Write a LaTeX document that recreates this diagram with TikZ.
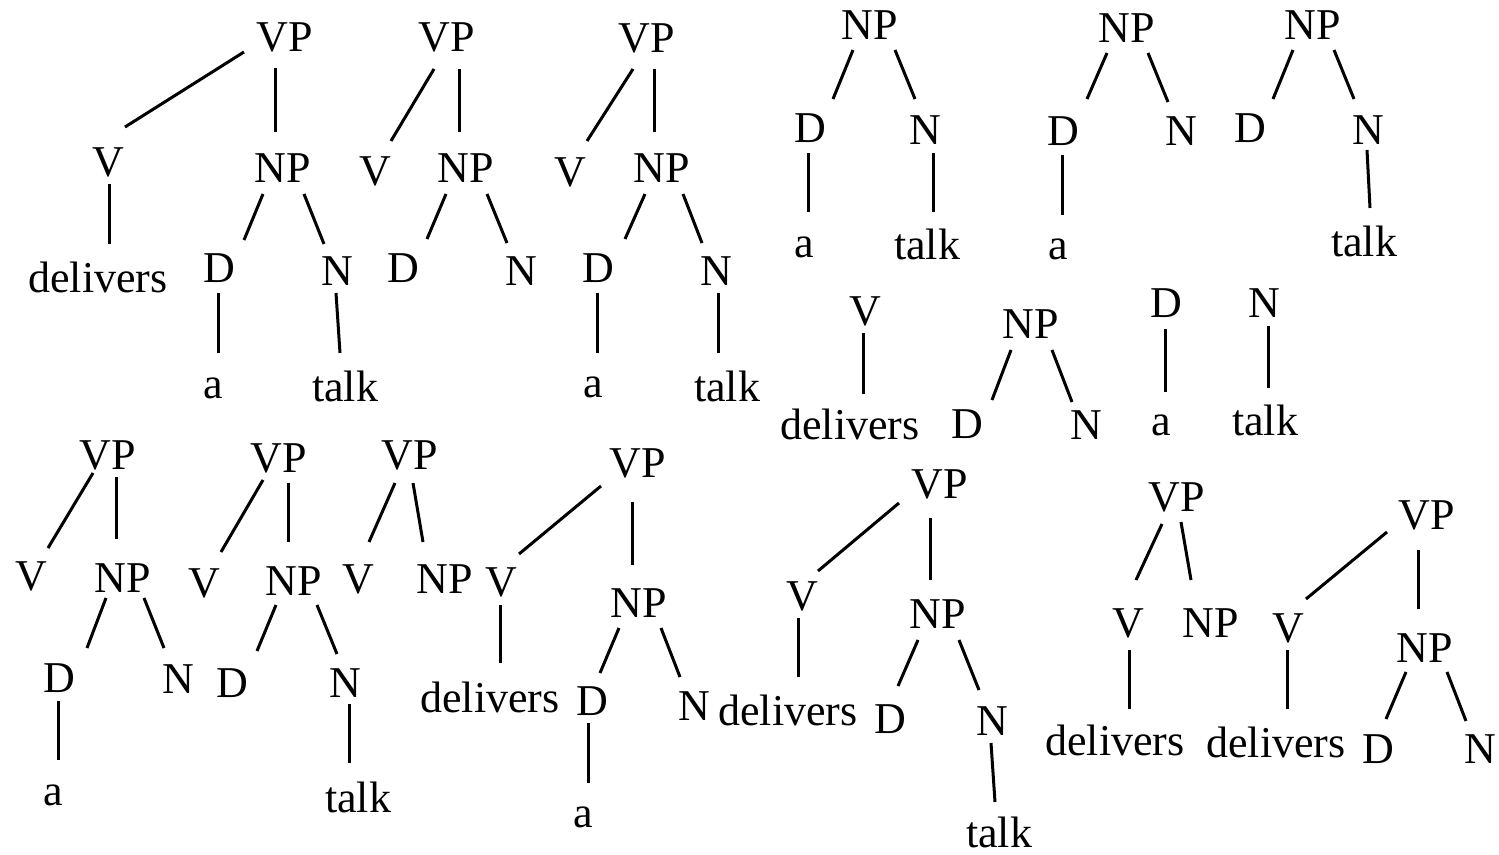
\documentclass[tikz,border=0pt]{standalone}
\usepackage{fontspec}
\setmainfont{Liberation Serif}
\tikzset{
  lbl/.style={inner sep=0pt, anchor=base, font=\fontsize{22pt}{26pt}\selectfont},
  branch/.style={line width=1.5pt, line cap=butt}
}
\newcommand\mkedge[4]{\draw[branch] ([shift={(#3)}]#1.base) -- ([shift={(#4)}]#2.base);}
\begin{document}
\begin{tikzpicture}[x=0.5pt,y=-0.5pt]
\useasboundingbox (0,0) rectangle (1499,855);
% ---------- Tree 1 ----------
\node[lbl] (t1vp) at (285,52) {VP};
\node[lbl] (t1v) at (108,177) {V};
\node[lbl] (t1dl) at (98,293) {delivers};
\node[lbl] (t1np) at (283,183) {NP};
\node[lbl] (t1d) at (219,283) {D};
\node[lbl] (t1n) at (337,286) {N};
\node[lbl] (t1a) at (213,399) {a};
\node[lbl] (t1t) at (345,401) {talk};
\mkedge{t1vp}{t1v}{-41,0}{17,-50}
\mkedge{t1vp}{t1np}{-10,16}{-8,-51}
\mkedge{t1v}{t1dl}{1,7}{11,-49}
\mkedge{t1np}{t1d}{-20,11}{25,-43}
\mkedge{t1np}{t1n}{21,11}{-13,-42}
\mkedge{t1d}{t1a}{-1,10}{5,-46}
\mkedge{t1n}{t1t}{-1,7}{-5,-48}
% ---------- Tree 2 ----------
\node[lbl] (t2vp) at (447,52) {VP};
\node[lbl] (t2v) at (375,186) {V};
\node[lbl] (t2np) at (466,183) {NP};
\node[lbl] (t2d) at (403,283) {D};
\node[lbl] (t2n) at (521,286) {N};
\mkedge{t2vp}{t2v}{-13,17}{16,-45}
\mkedge{t2vp}{t2np}{12,17}{-7,-51}
\mkedge{t2np}{t2d}{-20,11}{24,-44}
\mkedge{t2np}{t2n}{21,11}{-14,-43}
% ---------- Tree 3 ----------
\node[lbl] (t3vp) at (647,53) {VP};
\node[lbl] (t3v) at (570,187) {V};
\node[lbl] (t3np) at (662,183) {NP};
\node[lbl] (t3d) at (598,283) {D};
\node[lbl] (t3n) at (716,286) {N};
\node[lbl] (t3a) at (593,398) {a};
\node[lbl] (t3t) at (727,401) {talk};
\mkedge{t3vp}{t3v}{-14,16}{17,-46}
\mkedge{t3vp}{t3np}{7,16}{-8,-51}
\mkedge{t3np}{t3d}{-17,11}{27,-44}
\mkedge{t3np}{t3n}{21,11}{-14,-43}
\mkedge{t3d}{t3a}{-1,10}{4,-45}
\mkedge{t3n}{t3t}{2,7}{-9,-48}
% ---------- Tree 4 ----------
\node[lbl] (t4np) at (870,40) {NP};
\node[lbl] (t4d) at (810,143) {D};
\node[lbl] (t4n) at (925,145) {N};
\node[lbl] (t4a) at (804,258) {a};
\node[lbl] (t4t) at (927,260) {talk};
\mkedge{t4np}{t4d}{-17,10}{23,-44}
\mkedge{t4np}{t4n}{25,10}{-10,-46}
\mkedge{t4d}{t4a}{-2,10}{4,-46}
\mkedge{t4n}{t4t}{8,8}{6,-48}
% ---------- Tree 5 ----------
\node[lbl] (t5np) at (1127,43) {NP};
\node[lbl] (t5d) at (1063,146) {D};
\node[lbl] (t5n) at (1181,146) {N};
\node[lbl] (t5a) at (1058,260) {a};
\mkedge{t5np}{t5d}{-20,10}{24,-47}
\mkedge{t5np}{t5n}{21,10}{-13,-44}
\mkedge{t5d}{t5a}{-1,9}{4,-45}
% ---------- Tree 6 ----------
\node[lbl] (t6np) at (1313,40) {NP};
\node[lbl] (t6d) at (1250,143) {D};
\node[lbl] (t6n) at (1368,145) {N};
\node[lbl] (t6t) at (1364,257) {talk};
\mkedge{t6np}{t6d}{-20,10}{23,-44}
\mkedge{t6np}{t6n}{21,10}{-14,-46}
\mkedge{t6n}{t6t}{-1,5}{6,-49}
% ---------- Middle fragments ----------
\node[lbl] (t7v) at (865,326) {V};
\node[lbl] (t7dl) at (850,440) {delivers};
\mkedge{t7v}{t7dl}{-2,7}{13,-46}
\node[lbl] (t8np) at (1031,339) {NP};
\node[lbl] (t8d) at (967,438) {D};
\node[lbl] (t8n) at (1086,440) {N};
\mkedge{t8np}{t8d}{-20,11}{25,-38}
\mkedge{t8np}{t8n}{21,11}{-14,-38}
\node[lbl] (t9d) at (1166,318) {D};
\node[lbl] (t9a) at (1161,436) {a};
\mkedge{t9d}{t9a}{-1,11}{4,-44}
\node[lbl] (t10n) at (1264,318) {N};
\node[lbl] (t10t) at (1265,436) {talk};
\mkedge{t10n}{t10t}{4,8}{3,-48}
% ---------- Bottom A ----------
\node[lbl] (tAvp) at (108,470) {VP};
\node[lbl] (tAv) at (31,590) {V};
\node[lbl] (tAnp) at (123,592) {NP};
\node[lbl] (tAd) at (59,692) {D};
\node[lbl] (tAn) at (178,693) {N};
\node[lbl] (tAa) at (53,805) {a};
\mkedge{tAvp}{tAv}{-15,3}{17,-42}
\mkedge{tAvp}{tAnp}{8,7}{-7,-53}
\mkedge{tAnp}{tAd}{-17,6}{28,-44}
\mkedge{tAnp}{tAn}{21,6}{-14,-45}
\mkedge{tAd}{tAa}{-1,9}{5,-45}
% ---------- Bottom B ----------
\node[lbl] (tBvp) at (279,473) {VP};
\node[lbl] (tBv) at (204,597) {V};
\node[lbl] (tBnp) at (294,595) {NP};
\node[lbl] (tBd) at (232,697) {D};
\node[lbl] (tBn) at (345,697) {N};
\node[lbl] (tBt) at (358,812) {talk};
\mkedge{tBvp}{tBv}{-16,7}{17,-45}
\mkedge{tBvp}{tBnp}{9,10}{-6,-53}
\mkedge{tBnp}{tBd}{-18,10}{25,-46}
\mkedge{tBnp}{tBn}{23,10}{-8,-43}
\mkedge{tBn}{tBt}{4,7}{-9,-49}
% ---------- Bottom C ----------
\node[lbl] (tCvp) at (410,470) {VP};
\node[lbl] (tCv) at (358,593) {V};
\node[lbl] (tCnp) at (445,593) {NP};
\mkedge{tCvp}{tCv}{-15,13}{11,-51}
\mkedge{tCvp}{tCnp}{3,13}{-22,-51}
% ---------- Bottom D ----------
\node[lbl] (tDvp) at (638,478) {VP};
\node[lbl] (tDv) at (501,596) {V};
\node[lbl] (tDdl) at (490,712) {delivers};
\node[lbl] (tDnp) at (639,617) {NP};
\node[lbl] (tDd) at (592,715) {D};
\node[lbl] (tDn) at (694,720) {N};
\node[lbl] (tDa) at (583,827) {a};
\mkedge{tDvp}{tDv}{-37,8}{18,-42}
\mkedge{tDvp}{tDnp}{-6,24}{-7,-52}
\mkedge{tDv}{tDdl}{-1,9}{10,-49}
\mkedge{tDnp}{tDd}{-20,11}{8,-42}
\mkedge{tDnp}{tDn}{22,11}{-14,-43}
\mkedge{tDd}{tDa}{-4,8}{5,-44}
% ---------- Bottom E ----------
\node[lbl] (tEvp) at (940,498) {VP};
\node[lbl] (tEv) at (802,610) {V};
\node[lbl] (tEdl) at (788,725) {delivers};
\node[lbl] (tEnp) at (938,628) {NP};
\node[lbl] (tEd) at (890,733) {D};
\node[lbl] (tEn) at (992,735) {N};
\node[lbl] (tEt) at (999,847) {talk};
\mkedge{tEvp}{tEv}{-41,5}{16,-39}
\mkedge{tEvp}{tEnp}{-10,20}{-8,-48}
\mkedge{tEv}{tEdl}{-4,8}{10,-48}
\mkedge{tEnp}{tEd}{-20,12}{8,-47}
\mkedge{tEnp}{tEn}{21,12}{-13,-45}
\mkedge{tEn}{tEt}{-1,8}{-4,-45}
% ---------- Bottom F ----------
\node[lbl] (tFvp) at (1177,511) {VP};
\node[lbl] (tFv) at (1128,637) {V};
\node[lbl] (tFnp) at (1211,637) {NP};
\node[lbl] (tFdl) at (1115,755) {delivers};
\mkedge{tFvp}{tFv}{-15,13}{8,-57}
\mkedge{tFvp}{tFnp}{4,11}{-20,-57}
\mkedge{tFv}{tFdl}{1,13}{14,-46}
% ---------- Bottom G ----------
\node[lbl] (tGvp) at (1427,530) {VP};
\node[lbl] (tGv) at (1288,642) {V};
\node[lbl] (tGdl) at (1276,757) {delivers};
\node[lbl] (tGnp) at (1425,662) {NP};
\node[lbl] (tGd) at (1378,763) {D};
\node[lbl] (tGn) at (1480,763) {N};
\mkedge{tGvp}{tGv}{-40,2}{18,-43}
\mkedge{tGvp}{tGnp}{-9,20}{-7,-53}
\mkedge{tGv}{tGdl}{-1,8}{11,-48}
\mkedge{tGnp}{tGd}{-19,10}{8,-44}
\mkedge{tGnp}{tGn}{22,10}{-14,-42}
\end{tikzpicture}
\end{document}
